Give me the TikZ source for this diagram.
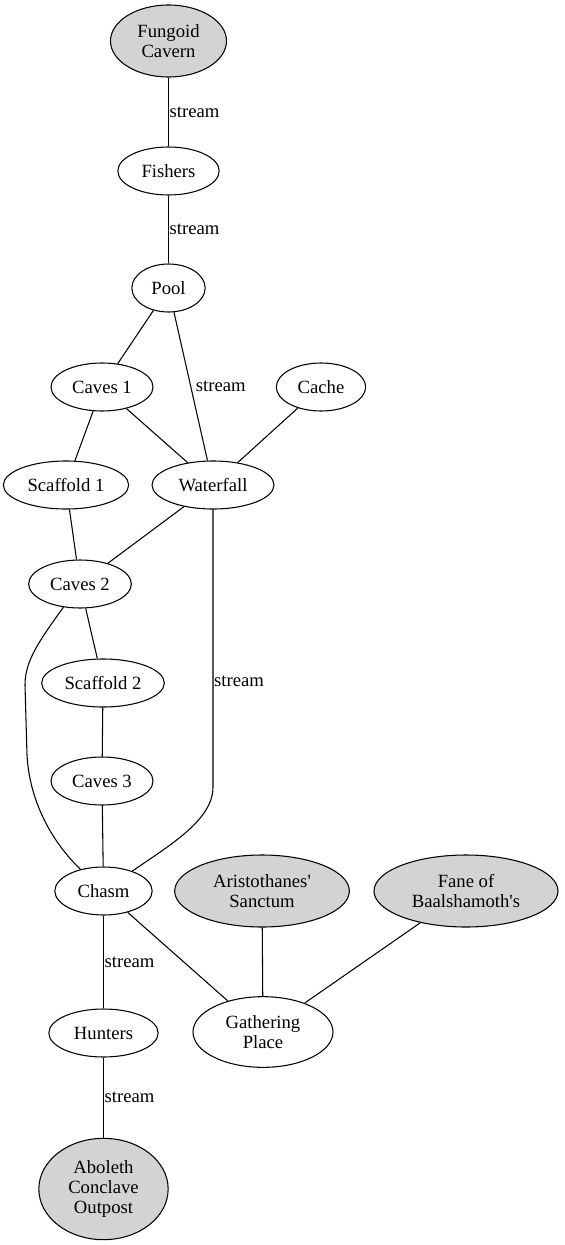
\documentclass[tikz,border=0pt]{standalone}
\usepackage{fontspec}
\setmainfont{Liberation Serif}
\usetikzlibrary{shapes.geometric}
\definecolor{cavegray}{HTML}{D3D3D3}
\tikzset{
  place/.style={ellipse,draw,line width=0.8pt,inner sep=0pt,minimum height=36pt,align=center,font=\fontsize{14}{15}\selectfont},
  lair/.style={place,fill=cavegray,minimum height=54pt},
  flow/.style={midway,right,inner sep=0.5pt,font=\fontsize{14}{15}\selectfont}
}
\begin{document}
\begin{tikzpicture}[x=0.75pt,y=-0.75pt,line width=0.8pt]
\useasboundingbox (0,0) rectangle (564,1245);

\node[lair,minimum width=87pt] (fungoid) at (168.5,41) {Fungoid\\Cavern};
\node[place,minimum width=76pt] (fishers) at (168.5,171) {Fishers};
\node[place,minimum width=55pt] (pool) at (168.5,288) {Pool};
\node[place,minimum width=76.5pt] (caves1) at (102,387) {Caves 1};
\node[place,minimum width=67pt] (cache) at (321,387) {Cache};
\node[place,minimum width=94pt] (scaffold1) at (66,485) {Scaffold 1};
\node[place,minimum width=91.5pt] (waterfall) at (213,485) {Waterfall};
\node[place,minimum width=77pt] (caves2) at (80,584) {Caves 2};
\node[place,minimum width=92pt] (scaffold2) at (103,683) {Scaffold 2};
\node[place,minimum width=76.5pt] (caves3) at (102,781) {Caves 3};
\node[place,minimum width=73pt] (chasm) at (103.5,891) {Chasm};
\node[lair,minimum width=131pt] (sanctum) at (262,891) {Aristothanes\textquotesingle\\Sanctum};
\node[lair,minimum width=138pt] (fane) at (466,891) {Fane of\\Baalshamoth\textquotesingle s};
\node[place,minimum width=82pt] (hunters) at (103.5,1033) {Hunters};
\node[place,minimum width=105pt,minimum height=53pt] (gathering) at (263,1032) {Gathering\\Place};
\node[lair,minimum width=97pt,minimum height=76pt] (aboleth) at (103.5,1189) {Aboleth\\Conclave\\Outpost};

\coordinate (fallbend) at (213,787);
\coordinate (chasmtop) at (25,685);
\coordinate (chasmbend) at (27,755);

\draw (fungoid) -- (fishers) node[flow] {stream};
\draw (fishers) -- (pool) node[flow] {stream};
\draw (pool) -- (caves1);
\draw (pool) -- (waterfall) node[flow,xshift=3pt] {stream};
\draw (caves1) -- (waterfall);
\draw (cache) -- (waterfall);
\draw (caves1) -- (scaffold1);
\draw (scaffold1) -- (caves2);
\draw (waterfall) -- (caves2);
\draw (caves2) -- (scaffold2);
\draw (scaffold2) -- (caves3);
\draw (caves3) -- (chasm);
\draw (caves2) .. controls (40,640) and (25,660) .. (chasmtop) -- (chasmbend) .. controls (30,810) and (60,850) .. (chasm);
\draw (waterfall) -- node[flow,pos=0.62] {stream} (fallbend) .. controls (213,820) and (170,845) .. (chasm);
\draw (chasm) -- (hunters) node[flow] {stream};
\draw (chasm) -- (gathering);
\draw (sanctum) -- (gathering);
\draw (fane) -- (gathering);
\draw (hunters) -- (aboleth) node[flow] {stream};
\end{tikzpicture}
\end{document}
